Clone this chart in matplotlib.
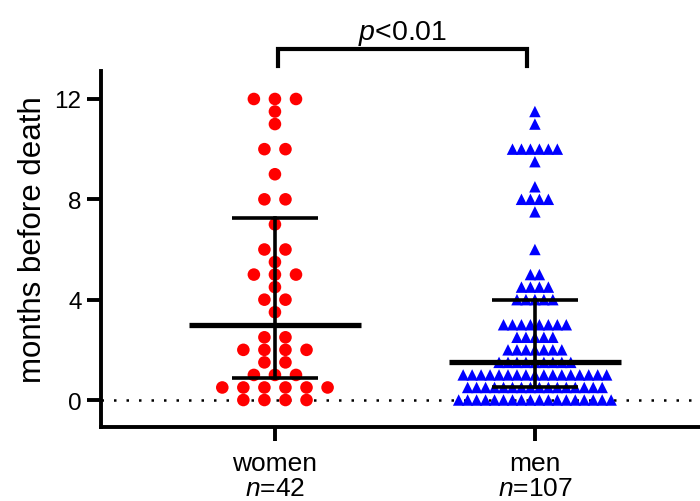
import matplotlib
matplotlib.use("Agg")
import matplotlib.pyplot as plt
import numpy as np

plt.rcParams['font.family'] = ['Liberation Sans', 'DejaVu Sans']
plt.rcParams['mathtext.fontset'] = 'custom'
plt.rcParams['mathtext.rm'] = 'Liberation Sans'
plt.rcParams['mathtext.it'] = 'Liberation Sans:italic'

# months before death
women = [12, 12, 12, 11.5, 11, 10, 10, 9, 8, 8, 7, 6, 6, 5.5, 5, 5, 5, 4.5,
         4, 4, 3.5, 2.5, 2.5, 2, 2, 2, 2, 1.5, 1.5, 1, 1, 1,
         0.5, 0.5, 0.5, 0.5, 0.5, 0.5, 0, 0, 0, 0]
men = [11.5, 11, 10, 10, 10, 10, 10, 10, 9.5, 8.5, 8, 8, 8, 8, 7.5, 6,
       5, 5, 4.5, 4.5, 4.5, 4.5, 4, 4, 4, 4, 4,
       3, 3, 3, 3, 3, 3, 3, 3, 2.5, 2.5, 2.5, 2.5, 2.5,
       2, 2, 2, 2, 2, 2, 2, 1.5, 1.5, 1.5, 1.5, 1.5, 1.5, 1.5, 1.5, 1.5,
       1, 1, 1, 1, 1, 1, 1, 1, 1, 1, 1, 1, 1, 1, 1, 1, 1,
       0.5, 0.5, 0.5, 0.5, 0.5, 0.5, 0.5, 0.5, 0.5, 0.5, 0.5, 0.5, 0.5, 0.5, 0.5, 0.5,
       0, 0, 0, 0, 0, 0, 0, 0, 0, 0, 0, 0, 0, 0, 0, 0, 0, 0]
groups = ["women", "men"]
p_text = "$p$<0.01"


# puts equal values side by side in a row, centred on the group
def swarm_x(vals, center, step):
    vals = np.asarray(vals)
    xs = np.empty(len(vals))
    for v in np.unique(vals):
        idx = np.where(vals == v)[0]
        k = len(idx)
        xs[idx] = center + (np.arange(k) - (k - 1) / 2) * step
    return xs


fig = plt.figure(figsize=(7, 5.02), dpi=100)
ax = fig.add_axes([0.1443, 0.1474, 0.8557, 0.7092])

ax.axhline(0, color='black', lw=1.8, ls=(0, (1, 4)), zorder=1)

ax.scatter(swarm_x(women, 1, 0.081), women, s=82, marker='o',
           color='#ff0000', edgecolors='none', zorder=2)
ax.scatter(swarm_x(men, 2, 0.0345), men, s=68, marker='^',
           color='#0000ff', edgecolors='none', zorder=2)

# median with interquartile range
for pos, vals in zip([1, 2], [women, men]):
    med = np.median(vals)
    q1, q3 = np.percentile(vals, [25, 75], method='weibull')
    ax.plot([pos - 0.33, pos + 0.33], [med, med], color='black', lw=3.8,
            solid_capstyle='butt', zorder=3)
    ax.plot([pos - 0.165, pos + 0.165], [q1, q1], color='black', lw=2.6,
            solid_capstyle='butt', zorder=3)
    ax.plot([pos - 0.165, pos + 0.165], [q3, q3], color='black', lw=2.6,
            solid_capstyle='butt', zorder=3)
    ax.plot([pos, pos], [q1, q3], color='black', lw=2.6, zorder=3)

# significance bracket
ax.plot([1.01, 1.01, 1.97, 1.97], [13.3, 14.0, 14.0, 13.3], color='black', lw=3,
        clip_on=False, solid_joinstyle='miter')
ax.text(1.49, 14.39, p_text, ha='center', va='baseline', fontsize=20.5)

ax.set_xlim(0.331, 2.635)
ax.set_ylim(-1.076, 13.116)
ax.set_yticks([0, 4, 8, 12])
ax.set_xticks([1, 2])
ax.set_xticklabels([f"{g}\n$n$={len(v)}" for g, v in zip(groups, [women, men])],
                   fontsize=19, linespacing=1.05)
ax.tick_params(axis='y', labelsize=17.5, length=10, width=2.8, pad=4)
ax.tick_params(axis='x', length=10, width=2.8, pad=7)

for s in ['top', 'right']:
    ax.spines[s].set_visible(False)
for s in ['left', 'bottom']:
    ax.spines[s].set_linewidth(2.8)

fig.text(33 / 700, 1 - 240 / 502, "months before death", rotation=90,
         ha='center', va='center', fontsize=22.5)

fig.savefig("out.png", dpi=100)
